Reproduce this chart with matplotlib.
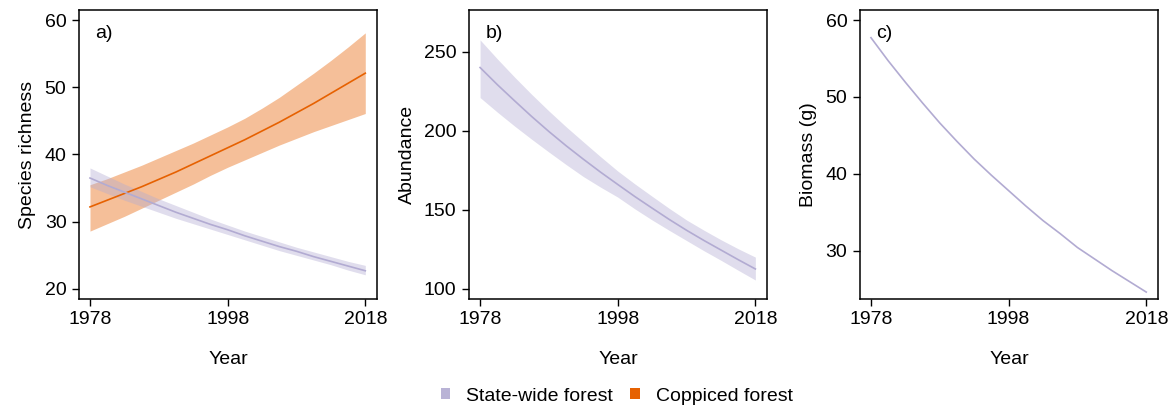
import matplotlib
matplotlib.use("Agg")
import matplotlib.pyplot as plt
from matplotlib.patches import Patch

plt.rcParams['font.family'] = ['Liberation Sans', 'DejaVu Sans']
plt.rcParams['font.size'] = 14

# data (every 2.5 years)
years = [1978, 1980.5, 1983, 1985.5, 1988, 1990.5, 1993, 1995.5, 1998,
         2000.5, 2003, 2005.5, 2008, 2010.5, 2013, 2015.5, 2018]

# a) species richness
rich_state = [36.5, 35.4, 34.4, 33.4, 32.4, 31.4, 30.5, 29.6, 28.8,
              27.9, 27.1, 26.3, 25.6, 24.8, 24.1, 23.4, 22.7]
rich_state_hi = [38.0, 36.8, 35.6, 34.5, 33.4, 32.4, 31.4, 30.4, 29.5,
                 28.6, 27.8, 27.0, 26.2, 25.5, 24.8, 24.1, 23.5]
rich_state_lo = [35.2, 34.2, 33.2, 32.3, 31.4, 30.5, 29.7, 28.9, 28.1,
                 27.3, 26.5, 25.7, 25.0, 24.3, 23.6, 22.8, 22.1]
rich_copp = [32.2, 33.2, 34.2, 35.2, 36.3, 37.4, 38.6, 39.8, 41.0,
             42.2, 43.5, 44.8, 46.2, 47.6, 49.1, 50.6, 52.1]
rich_copp_hi = [35.5, 36.4, 37.4, 38.4, 39.5, 40.6, 41.7, 42.9, 44.1,
                45.4, 46.9, 48.5, 50.3, 52.1, 54.0, 56.0, 58.1]
rich_copp_lo = [28.6, 29.7, 30.8, 32.0, 33.2, 34.4, 35.6, 36.9, 38.1,
                39.2, 40.3, 41.4, 42.4, 43.4, 44.3, 45.2, 46.1]

# b) abundance
abund = [240.0, 229.2, 219.0, 209.0, 199.5, 190.5, 182.0, 173.8, 166.0,
         158.3, 151.0, 143.8, 137.0, 130.6, 124.5, 118.4, 112.5]
abund_hi = [257.5, 245.5, 234.0, 223.0, 212.5, 202.5, 193.0, 183.6, 174.5,
            166.3, 158.5, 150.8, 143.5, 137.1, 131.0, 125.3, 120.0]
abund_lo = [221.0, 211.8, 203.0, 194.6, 186.5, 178.6, 171.0, 164.3, 158.0,
            150.5, 143.5, 136.9, 130.5, 124.1, 118.0, 111.7, 105.5]

# c) biomass
biomass = [57.7, 54.7, 51.9, 49.2, 46.6, 44.2, 41.9, 39.8, 37.8,
           35.8, 33.9, 32.2, 30.4, 28.9, 27.4, 26.0, 24.6]

PURPLE = '#B2ABD2'
ORANGE = '#E66101'

fig = plt.figure(figsize=(11.7, 4.07), dpi=100)
lefts = [0.0675, 0.4009, 0.7350]
axes = [fig.add_axes([l, 0.2654, 0.2550, 0.7100]) for l in lefts]


def style(ax, ylabel, letter):
    ax.set_xlim(1976.4, 2019.75)
    ax.set_xticks([1978, 1998, 2018])
    ax.set_xlabel('Year', labelpad=16)
    ax.set_ylabel(ylabel, labelpad=6)
    ax.tick_params(direction='out', length=5, width=1, pad=4, labelsize=14)
    for s in ax.spines.values():
        s.set_linewidth(1.1)
    ax.text(0.055, 0.92, letter, transform=ax.transAxes, fontsize=14, va='center')


ax = axes[0]
ax.fill_between(years, rich_copp_lo, rich_copp_hi, color=ORANGE, alpha=0.4, lw=0)
ax.plot(years, rich_copp, color=ORANGE, lw=1.2)
ax.fill_between(years, rich_state_lo, rich_state_hi, color=PURPLE, alpha=0.4, lw=0)
ax.plot(years, rich_state, color=PURPLE, lw=1.2)
ax.set_ylim(18.5, 61.5)
ax.set_yticks([20, 30, 40, 50, 60])
style(ax, 'Species richness', 'a)')

ax = axes[1]
ax.fill_between(years, abund_lo, abund_hi, color=PURPLE, alpha=0.4, lw=0)
ax.plot(years, abund, color=PURPLE, lw=1.2)
ax.set_ylim(93.5, 276.4)
ax.set_yticks([100, 150, 200, 250])
style(ax, 'Abundance', 'b)')

ax = axes[2]
ax.plot(years, biomass, color=PURPLE, lw=1.2)
ax.set_ylim(23.7, 61.3)
ax.set_yticks([30, 40, 50, 60])
style(ax, 'Biomass (g)', 'c)')

handles = [Patch(facecolor=PURPLE, edgecolor='none', alpha=0.9, label='State-wide forest'),
           Patch(facecolor=ORANGE, edgecolor='none', label='Coppiced forest')]
fig.legend(handles=handles, loc='center', bbox_to_anchor=(0.527, 0.027), ncol=2,
           frameon=False, fontsize=14, handlelength=0.5, handleheight=0.5,
           handletextpad=0.8, columnspacing=0.9)

fig.savefig('out.png', dpi=100)
